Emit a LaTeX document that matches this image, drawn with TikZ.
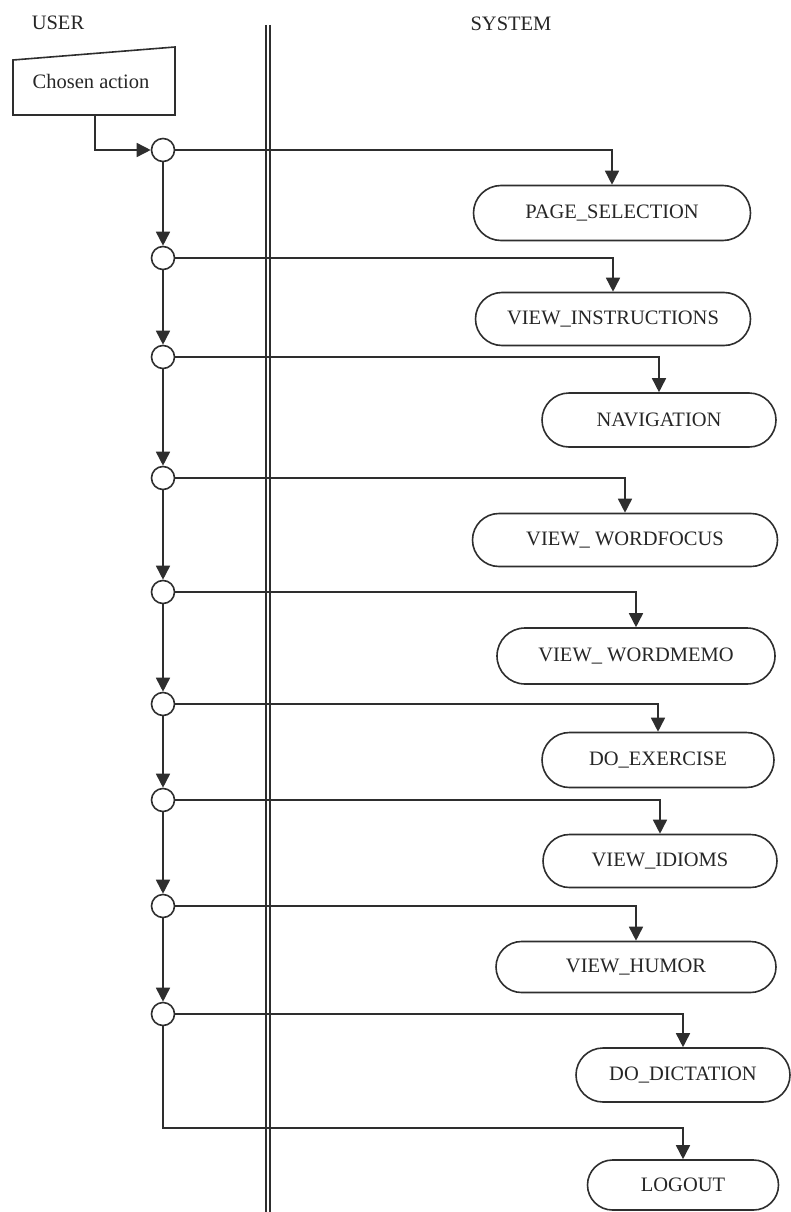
\documentclass[tikz,border=0pt]{standalone}
\usepackage{fontspec}
\setmainfont{Liberation Serif}
\usetikzlibrary{shapes.misc,arrows.meta}
\begin{document}
\begin{tikzpicture}[x=1pt,y=-1pt,
  every node/.style={font=\fontsize{20.5}{24}\selectfont},
  wire/.style={line width=1.6pt,draw=black!82},
  flow/.style={wire,-{Triangle[length=14pt,width=14pt]}},
  junction/.style={circle,draw=black!82,line width=1.6pt,fill=white,minimum size=23pt,inner sep=0pt},
  statebox/.style={rounded rectangle,draw=black!82,line width=1.6pt,inner sep=0pt,text=black!85},
  lanelabel/.style={text=black!85,inner sep=0pt}]
\useasboundingbox (0,0) rectangle (790,1212);

% swimlane titles and divider
\node[lanelabel] (user) at (58,23) {USER};
\node[lanelabel] (system) at (511,24) {SYSTEM};
\draw[line width=1.4pt,draw=black!82] (266,25) -- (266,1212);
\draw[line width=1.4pt,draw=black!82] (270,25) -- (270,1212);

% manual input: chosen action
\draw[wire] (13,60) -- (175,47) -- (175,115) -- (13,115) -- cycle;
\node[lanelabel] (act) at (91,81) {Chosen action};
\coordinate (actout) at (95,115);

% decision junctions
\node[junction] (c1) at (163,150) {};
\node[junction] (c2) at (163,258) {};
\node[junction] (c3) at (163,357) {};
\node[junction] (c4) at (163,478) {};
\node[junction] (c5) at (163,592) {};
\node[junction] (c6) at (163,704) {};
\node[junction] (c7) at (163,800) {};
\node[junction] (c8) at (163,906) {};
\node[junction] (c9) at (163,1014) {};
\coordinate (turn) at (163,1128);

% system states
\node[statebox,minimum width=277pt,minimum height=55pt] (s1) at (612,213) {PAGE\_SELECTION};
\node[statebox,minimum width=275pt,minimum height=53pt] (s2) at (613,319) {VIEW\_INSTRUCTIONS};
\node[statebox,minimum width=234pt,minimum height=54pt] (s3) at (659,420) {NAVIGATION};
\node[statebox,minimum width=305pt,minimum height=53pt] (s4) at (625,540) {VIEW\_ WORDFOCUS};
\node[statebox,minimum width=278pt,minimum height=56pt] (s5) at (636,656) {VIEW\_ WORDMEMO};
\node[statebox,minimum width=232pt,minimum height=55pt] (s6) at (658,760) {DO\_EXERCISE};
\node[statebox,minimum width=234pt,minimum height=53pt] (s7) at (660,861) {VIEW\_IDIOMS};
\node[statebox,minimum width=280pt,minimum height=51pt] (s8) at (636,967) {VIEW\_HUMOR};
\node[statebox,minimum width=214pt,minimum height=54pt] (s9) at (683,1075) {DO\_DICTATION};
\node[statebox,minimum width=191pt,minimum height=50pt] (s10) at (683,1185) {LOGOUT};

% entry into the first junction
\draw[flow] (actout) |- (c1.west);

% chain of junctions
\draw[flow] (c1) -- (c2);
\draw[flow] (c2) -- (c3);
\draw[flow] (c3) -- (c4);
\draw[flow] (c4) -- (c5);
\draw[flow] (c5) -- (c6);
\draw[flow] (c6) -- (c7);
\draw[flow] (c7) -- (c8);
\draw[flow] (c8) -- (c9);

% branches to the states
\draw[flow] (c1.east) -| (s1.north);
\draw[flow] (c2.east) -| (s2.north);
\draw[flow] (c3.east) -| (s3.north);
\draw[flow] (c4.east) -| (s4.north);
\draw[flow] (c5.east) -| (s5.north);
\draw[flow] (c6.east) -| (s6.north);
\draw[flow] (c7.east) -| (s7.north);
\draw[flow] (c8.east) -| (s8.north);
\draw[flow] (c9.east) -| (s9.north);
\draw[flow] (c9.south) -- (turn) -| (s10.north);
\end{tikzpicture}
\end{document}
